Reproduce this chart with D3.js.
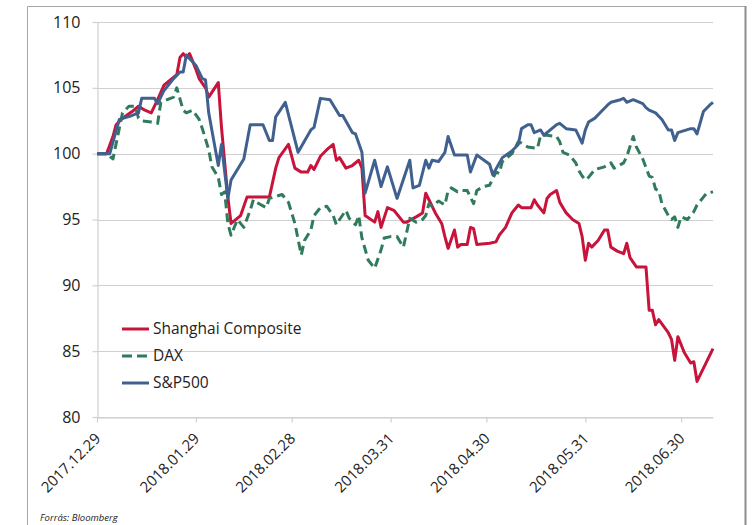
<!DOCTYPE html>
<html>
<head>
<meta charset="utf-8">
<script src="https://cdn.jsdelivr.net/npm/d3@7"></script>
<style>
  body { margin: 0; background: #fff; }
  text { font-family: "Open Sans", sans-serif; fill: #222; }
</style>
</head>
<body>
<div id="chart"></div>
<script>
/* DATA (index 2017.12.29 = 100) */
const tickLabels = ["2017.12.29", "2018.01.29", "2018.02.28", "2018.03.31",
                    "2018.04.30", "2018.05.31", "2018.06.30"];
const yTicks = [80, 85, 90, 95, 100, 105, 110];
const seriesNames = ["Shanghai Composite", "DAX", "S&P500"];

const shanghai = [
  ["2017-12-29",100.0],["2018-01-01",100.0],["2018-01-03",101.3],["2018-01-04",102.2],
  ["2018-01-06",102.7],["2018-01-09",103.2],["2018-01-11",103.6],["2018-01-13",103.3],
  ["2018-01-15",103.1],["2018-01-17",104.1],["2018-01-19",105.2],["2018-01-21",105.6],
  ["2018-01-23",106.0],["2018-01-24",107.3],["2018-01-25",107.6],["2018-01-26",107.3],
  ["2018-01-27",107.6],["2018-01-29",106.4],["2018-01-30",105.7],["2018-02-01",105.0],
  ["2018-02-02",104.3],["2018-02-05",105.4],["2018-02-06",102.0],["2018-02-08",96.7],
  ["2018-02-09",94.7],["2018-02-12",95.3],["2018-02-14",96.7],["2018-02-21",96.7],
  ["2018-02-23",98.9],["2018-02-24",99.7],["2018-02-27",100.7],["2018-03-01",98.9],
  ["2018-03-03",98.6],["2018-03-05",98.6],["2018-03-06",99.1],["2018-03-07",98.8],
  ["2018-03-09",99.8],["2018-03-11",100.3],["2018-03-13",100.7],["2018-03-14",99.5],
  ["2018-03-15",99.7],["2018-03-17",98.9],["2018-03-19",99.1],["2018-03-21",99.5],
  ["2018-03-22",98.9],["2018-03-23",95.3],["2018-03-26",94.8],["2018-03-27",95.6],
  ["2018-03-28",94.4],["2018-03-30",95.9],["2018-04-01",95.7],["2018-04-04",94.8],
  ["2018-04-05",94.8],["2018-04-08",95.2],["2018-04-10",95.5],["2018-04-11",97.0],
  ["2018-04-12",96.5],["2018-04-14",95.5],["2018-04-16",94.7],["2018-04-17",93.7],
  ["2018-04-18",92.8],["2018-04-20",94.2],["2018-04-21",92.9],["2018-04-22",93.1],
  ["2018-04-24",93.1],["2018-04-25",94.4],["2018-04-26",94.3],["2018-04-27",93.1],
  ["2018-05-01",93.2],["2018-05-03",93.3],["2018-05-04",93.8],["2018-05-06",94.4],
  ["2018-05-08",95.5],["2018-05-10",96.1],["2018-05-11",95.9],["2018-05-14",95.9],
  ["2018-05-15",96.5],["2018-05-16",96.1],["2018-05-18",95.5],["2018-05-19",96.6],
  ["2018-05-20",96.9],["2018-05-22",97.2],["2018-05-23",96.3],["2018-05-25",95.5],
  ["2018-05-27",95.0],["2018-05-29",94.7],["2018-05-30",93.7],["2018-05-31",91.9],
  ["2018-06-01",93.2],["2018-06-02",92.9],["2018-06-04",93.4],["2018-06-06",94.2],
  ["2018-06-07",94.2],["2018-06-08",92.9],["2018-06-10",92.6],["2018-06-12",92.4],
  ["2018-06-13",93.2],["2018-06-14",92.1],["2018-06-16",91.4],["2018-06-19",91.4],
  ["2018-06-20",88.1],["2018-06-21",88.1],["2018-06-22",87.0],["2018-06-23",87.4],
  ["2018-06-26",86.4],["2018-06-27",85.9],["2018-06-28",84.3],["2018-06-29",86.1],
  ["2018-07-01",84.9],["2018-07-03",84.1],["2018-07-04",84.2],["2018-07-05",82.7],
  ["2018-07-10",85.2]
];

const dax = [
  ["2017-12-29",100.0],["2018-01-01",100.0],["2018-01-03",99.6],["2018-01-06",103.1],
  ["2018-01-08",103.6],["2018-01-10",103.6],["2018-01-11",102.7],["2018-01-12",102.5],
  ["2018-01-15",102.4],["2018-01-17",102.3],["2018-01-18",103.9],["2018-01-20",104.1],
  ["2018-01-22",104.3],["2018-01-23",105.0],["2018-01-25",103.3],["2018-01-26",103.1],
  ["2018-01-28",103.3],["2018-01-30",102.6],["2018-01-31",101.9],["2018-02-02",100.3],
  ["2018-02-03",99.0],["2018-02-05",98.2],["2018-02-06",96.9],["2018-02-07",97.1],
  ["2018-02-08",94.7],["2018-02-09",93.8],["2018-02-11",95.0],["2018-02-13",94.4],
  ["2018-02-15",95.7],["2018-02-16",96.5],["2018-02-17",96.3],["2018-02-20",95.9],
  ["2018-02-21",96.6],["2018-02-25",96.9],["2018-02-27",96.3],["2018-03-01",94.7],
  ["2018-03-03",92.3],["2018-03-04",93.4],["2018-03-06",94.2],["2018-03-07",95.3],
  ["2018-03-09",95.9],["2018-03-11",96.0],["2018-03-13",95.3],["2018-03-14",94.6],
  ["2018-03-15",95.0],["2018-03-17",95.7],["2018-03-18",95.1],["2018-03-20",94.6],
  ["2018-03-21",95.3],["2018-03-22",93.6],["2018-03-24",91.9],["2018-03-26",91.3],
  ["2018-03-28",92.7],["2018-03-29",93.6],["2018-03-31",93.7],["2018-04-02",93.7],
  ["2018-04-04",92.9],["2018-04-06",95.1],["2018-04-08",94.8],["2018-04-10",95.0],
  ["2018-04-11",95.3],["2018-04-12",96.2],["2018-04-13",96.0],["2018-04-15",96.4],
  ["2018-04-17",96.1],["2018-04-18",97.2],["2018-04-19",97.4],["2018-04-21",97.1],
  ["2018-04-22",97.2],["2018-04-24",97.2],["2018-04-26",96.2],["2018-04-27",97.2],
  ["2018-04-29",97.5],["2018-05-01",97.6],["2018-05-03",98.6],["2018-05-04",98.5],
  ["2018-05-05",99.4],["2018-05-08",100.0],["2018-05-10",100.9],["2018-05-11",100.8],
  ["2018-05-13",100.5],["2018-05-16",100.4],["2018-05-17",101.4],["2018-05-19",101.4],
  ["2018-05-22",101.3],["2018-05-23",100.9],["2018-05-24",100.1],["2018-05-26",99.9],
  ["2018-05-28",99.3],["2018-05-29",98.7],["2018-05-30",98.3],["2018-05-31",98.0],
  ["2018-06-01",98.2],["2018-06-03",98.8],["2018-06-06",99.0],["2018-06-08",99.3],
  ["2018-06-09",98.9],["2018-06-12",99.3],["2018-06-13",99.8],["2018-06-15",101.3],
  ["2018-06-16",100.5],["2018-06-18",99.6],["2018-06-20",98.3],["2018-06-21",98.2],
  ["2018-06-22",97.3],["2018-06-23",97.2],["2018-06-24",96.2],["2018-06-26",95.3],
  ["2018-06-27",95.0],["2018-06-28",95.2],["2018-06-29",94.4],["2018-06-30",95.2],
  ["2018-07-02",95.0],["2018-07-04",95.6],["2018-07-05",96.1],["2018-07-07",96.7],
  ["2018-07-08",97.0],["2018-07-10",97.1]
];

const sp500 = [
  ["2017-12-29",100.0],["2018-01-02",100.0],["2018-01-05",102.6],["2018-01-09",102.9],
  ["2018-01-11",103.1],["2018-01-12",104.2],["2018-01-16",104.2],["2018-01-17",103.8],
  ["2018-01-19",104.8],["2018-01-22",105.7],["2018-01-24",106.2],["2018-01-25",106.2],
  ["2018-01-26",107.5],["2018-01-29",106.7],["2018-01-31",105.7],["2018-02-01",105.6],
  ["2018-02-02",103.1],["2018-02-05",99.1],["2018-02-06",100.7],["2018-02-08",96.6],
  ["2018-02-09",98.0],["2018-02-13",99.6],["2018-02-15",102.2],["2018-02-19",102.2],
  ["2018-02-21",101.0],["2018-02-22",101.0],["2018-02-23",102.8],["2018-02-26",103.9],
  ["2018-03-02",100.1],["2018-03-06",101.8],["2018-03-07",102.0],["2018-03-09",104.2],
  ["2018-03-12",104.1],["2018-03-15",102.9],["2018-03-16",102.9],["2018-03-19",101.6],
  ["2018-03-20",101.5],["2018-03-22",100.1],["2018-03-23",97.0],["2018-03-26",99.5],
  ["2018-03-28",97.5],["2018-03-30",99.0],["2018-04-02",96.6],["2018-04-06",99.5],
  ["2018-04-07",97.4],["2018-04-09",97.6],["2018-04-11",99.5],["2018-04-12",98.9],
  ["2018-04-13",99.5],["2018-04-15",99.4],["2018-04-17",100.1],["2018-04-18",101.3],
  ["2018-04-20",99.9],["2018-04-24",99.9],["2018-04-25",98.6],["2018-04-27",99.9],
  ["2018-05-01",99.2],["2018-05-02",98.4],["2018-05-05",99.7],["2018-05-08",100.2],
  ["2018-05-10",100.7],["2018-05-11",101.9],["2018-05-13",102.2],["2018-05-14",102.2],
  ["2018-05-15",101.6],["2018-05-17",101.8],["2018-05-18",101.4],["2018-05-22",102.2],
  ["2018-05-23",102.3],["2018-05-25",101.9],["2018-05-28",101.8],["2018-05-30",100.8],
  ["2018-05-31",101.8],["2018-06-01",102.4],["2018-06-03",102.7],["2018-06-05",103.2],
  ["2018-06-07",103.7],["2018-06-08",103.9],["2018-06-11",104.1],["2018-06-12",104.2],
  ["2018-06-13",103.9],["2018-06-15",104.1],["2018-06-18",103.8],["2018-06-19",103.5],
  ["2018-06-20",103.3],["2018-06-22",103.1],["2018-06-24",102.6],["2018-06-26",101.8],
  ["2018-06-27",101.8],["2018-06-28",101.0],["2018-06-29",101.6],["2018-07-03",101.9],
  ["2018-07-04",101.9],["2018-07-05",101.5],["2018-07-07",103.2],["2018-07-09",103.7],
  ["2018-07-10",103.9]
];

/* CONSTANTS */
const width = 753, height = 525,
  margin = { top: 22, right: 40, bottom: 108, left: 97 };

const parseDate = d3.timeParse("%Y-%m-%d");
const parseTick = d3.timeParse("%Y.%m.%d");

const series = [
  { name: seriesNames[0], rows: shanghai, color: "#c8133a", dash: null },
  { name: seriesNames[1], rows: dax, color: "#2f7b5c", dash: "9,5" },
  { name: seriesNames[2], rows: sp500, color: "#40618f", dash: null }
];

/* SCALES */
const x = d3.scaleTime()
  .domain([parseDate("2017-12-29"), parseDate("2018-07-10")])
  .range([margin.left, width - margin.right]);

const y = d3.scaleLinear()
  .domain([80, 110])
  .range([height - margin.bottom, margin.top]);

/* SVG */
const svg = d3.select("#chart")
  .append("svg")
  .attr("width", width)
  .attr("height", height);

// outer frame
svg.append("path")
  .attr("d", `M27.5,${height} V6.5 H745.5 V${height}`)
  .attr("fill", "none")
  .attr("stroke", "#a6a6a6")
  .attr("stroke-width", 1);
svg.append("line")
  .attr("x1", 745.5).attr("x2", 745.5)
  .attr("y1", 6).attr("y2", height)
  .attr("stroke", "#8c8c8c")
  .attr("stroke-width", 2);

// gridlines
svg.selectAll(".grid")
  .data(yTicks)
  .join("line")
  .attr("class", "grid")
  .attr("x1", margin.left)
  .attr("x2", width - margin.right)
  .attr("y1", d => Math.round(y(d)) + 0.5)
  .attr("y2", d => Math.round(y(d)) + 0.5)
  .attr("stroke", "#d0d0d0")
  .attr("stroke-width", 1.2);

// y axis
const yAxis = svg.append("g")
  .attr("transform", `translate(${margin.left + 0.5},0)`)
  .call(d3.axisLeft(y).tickValues(yTicks).tickSize(5).tickSizeOuter(0).tickPadding(12));
yAxis.selectAll("line, path").attr("stroke", "#d0d0d0").attr("stroke-width", 1.2);
yAxis.selectAll("text")
  .style("font-size", "16px")
  .attr("fill", "#222");

// x axis
const xAxis = svg.append("g")
  .attr("transform", `translate(0,${Math.round(y(80)) + 0.5})`)
  .call(d3.axisBottom(x)
    .tickValues(tickLabels.map(parseTick))
    .tickFormat(d3.timeFormat("%Y.%m.%d"))
    .tickSize(5)
    .tickSizeOuter(0));
xAxis.selectAll("line, path").attr("stroke", "#d0d0d0").attr("stroke-width", 1.2);
xAxis.selectAll("text")
  .style("font-size", "15px")
  .attr("fill", "#222")
  .attr("text-anchor", "end")
  .attr("x", 0).attr("y", 0).attr("dy", 0)
  .attr("transform", "translate(4,22) rotate(-45)");

// LINES
const lineGen = d3.line()
  .x(d => x(parseDate(d[0])))
  .y(d => y(d[1]));

svg.selectAll(".series")
  .data(series)
  .join("path")
  .attr("class", "series")
  .attr("d", d => lineGen(d.rows))
  .attr("fill", "none")
  .attr("stroke", d => d.color)
  .attr("stroke-width", 3)
  .attr("stroke-linejoin", "round")
  .attr("stroke-dasharray", d => d.dash);

// LEGEND
const legend = svg.selectAll(".legend")
  .data(series)
  .join("g")
  .attr("class", "legend")
  .attr("transform", (d, i) => `translate(122,${329 + i * 27})`);

legend.append("line")
  .attr("x1", 0).attr("x2", 27)
  .attr("stroke", d => d.color)
  .attr("stroke-width", 3)
  .attr("stroke-dasharray", d => d.dash ? "10,5" : null);

legend.append("text")
  .attr("x", 31)
  .attr("dy", "0.35em")
  .style("font-size", "15.5px")
  .text(d => d.name);

// SOURCE
svg.append("text")
  .attr("x", 40)
  .attr("y", 521)
  .style("font-size", "9.5px")
  .style("font-style", "italic")
  .text("Forrás: Bloomberg");
</script>
</body>
</html>
